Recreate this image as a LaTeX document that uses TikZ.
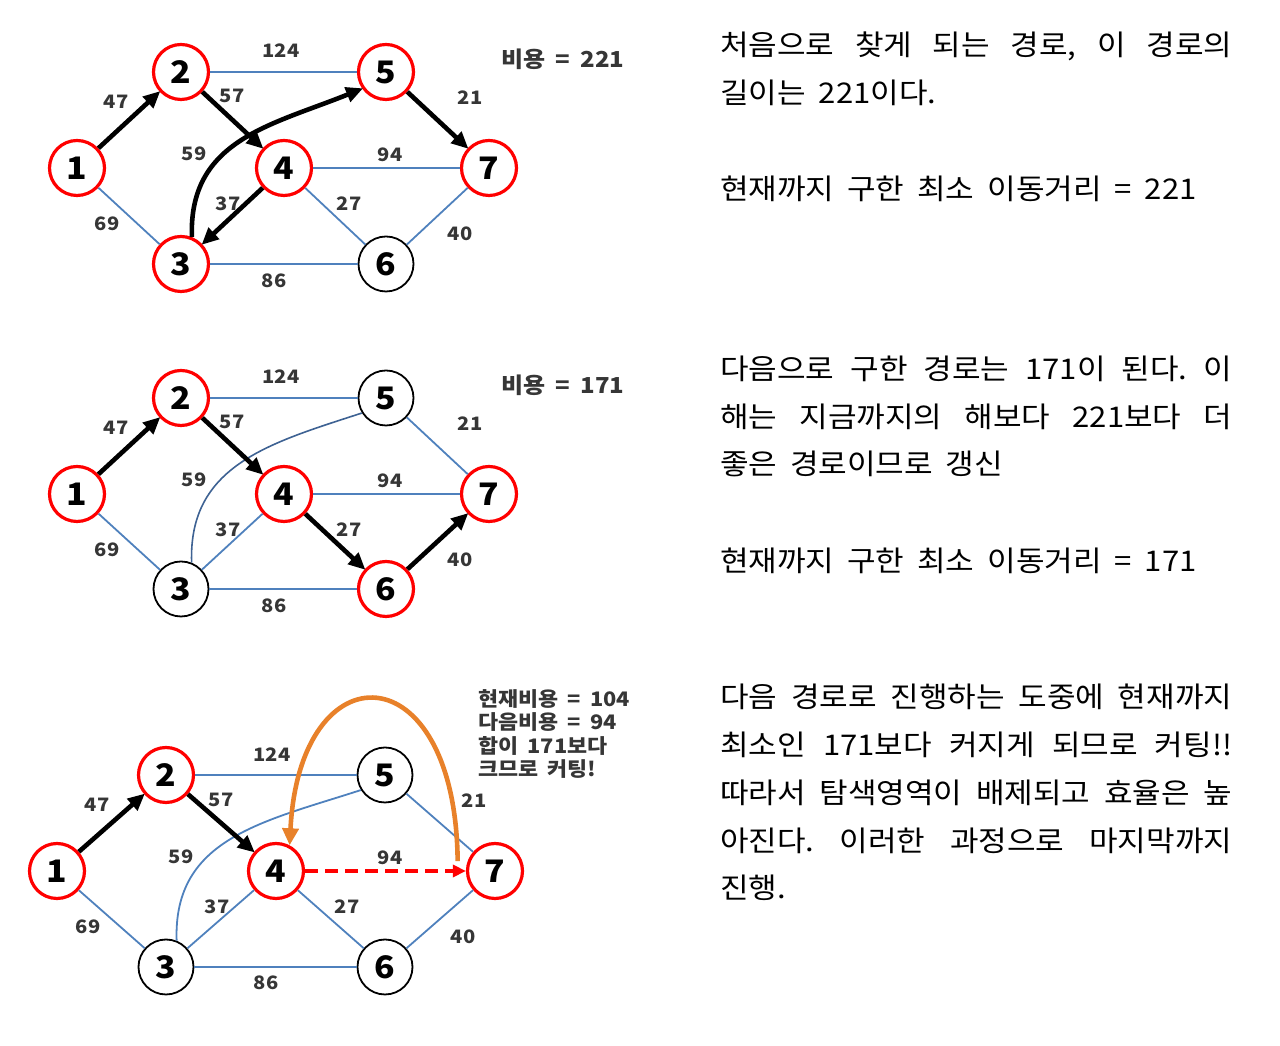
\documentclass[tikz,border=0pt]{standalone}
\usepackage{fontspec}
\setmainfont{Noto Sans CJK KR}[FakeStretch=1.09,WordSpace=1.85]
\frenchspacing
\usetikzlibrary{arrows.meta}
\definecolor{edgeblue}{HTML}{4F81BD}
\definecolor{curveblue}{HTML}{3E6293}
\definecolor{hitred}{HTML}{FF0000}
\definecolor{labgray}{HTML}{363636}
\definecolor{cutorange}{HTML}{E8812A}
\tikzset{
  vtx/.style={circle,draw=black,line width=1.8pt,minimum size=55pt,inner sep=0pt,fill=white,font=\fontsize{31}{31}\selectfont\bfseries},
  hit/.style={vtx,draw=hitred,line width=3.2pt},
  edg/.style={draw=edgeblue,line width=1.8pt},
  curv/.style={draw=curveblue,line width=1.6pt},
  pth/.style={-{Triangle[length=17pt,width=15pt]},line width=4.6pt,draw=black,shorten >=-1pt},
  cutpath/.style={-{Triangle[length=13pt,width=12pt]},line width=3.2pt,draw=hitred,dash pattern=on 13pt off 7pt},
  cutback/.style={-{Triangle[length=17pt,width=16pt]},line width=4.6pt,draw=cutorange},
  wlab/.style={font=\fontsize{18.5}{18.5}\selectfont\bfseries,text=labgray,inner sep=0pt},
  cost/.style={font=\fontsize{22}{22}\selectfont\bfseries,text=labgray,inner sep=0pt},
  note/.style={font=\fontsize{20}{23.5}\selectfont\bfseries,text=labgray,align=left,inner sep=0pt},
  txt/.style={font=\fontsize{28.5}{48}\selectfont,anchor=base west,inner sep=0pt},
}
\newcommand{\jline}[1]{\makebox[512pt][s]{#1}}

\begin{document}
\begin{tikzpicture}[x=1pt,y=1pt]
  \useasboundingbox (0,0) rectangle (1280,1046);

  % first path, cost 221
  \node[hit] (a1) at (77,878) {1};
  \node[hit] (a2) at (181,974) {2};
  \node[hit] (a5) at (386,974) {5};
  \node[hit] (a4) at (284,878) {4};
  \node[hit] (a7) at (489,878) {7};
  \node[hit] (a3) at (181,782) {3};
  \node[vtx] (a6) at (386,782) {6};
  \draw[edg] (a2) -- (a5); \draw[edg] (a1) -- (a3); \draw[edg] (a4) -- (a7);
  \draw[edg] (a4) -- (a6); \draw[edg] (a3) -- (a6); \draw[edg] (a6) -- (a7);
  \draw[pth] (a1) -- (a2); \draw[pth] (a2) -- (a4);
  \draw[pth] (a4) -- (a3); \draw[pth] (a5) -- (a7);
  \draw[pth] (a3.68) to[out=92,in=202,looseness=1.1] (a5.215);
  \node[wlab] (a124) at (281,995) {124}; \node[wlab] (a47) at (116,944) {47};
  \node[wlab] (a57) at (232,950) {57};   \node[wlab] (a21) at (470,948) {21};
  \node[wlab] (a59) at (194,892) {59};   \node[wlab] (a94) at (390,891) {94};
  \node[wlab] (a37) at (228,842) {37};   \node[wlab] (a27) at (349,842) {27};
  \node[wlab] (a69) at (107,822) {69};   \node[wlab] (a40) at (460,812) {40};
  \node[wlab] (a86) at (274,765) {86};
  \node[cost] (acost) at (563,987) {비용 = 221};

  % second path, cost 171
  \node[hit] (b1) at (77,552) {1};
  \node[hit] (b2) at (181,648) {2};
  \node[vtx] (b5) at (386,648) {5};
  \node[hit] (b4) at (284,552) {4};
  \node[hit] (b7) at (489,552) {7};
  \node[vtx] (b3) at (181,457) {3};
  \node[hit] (b6) at (386,457) {6};
  \draw[edg] (b2) -- (b5); \draw[edg] (b5) -- (b7); \draw[edg] (b1) -- (b3);
  \draw[edg] (b3) -- (b4); \draw[edg] (b4) -- (b7); \draw[edg] (b3) -- (b6);
  \draw[curv] (b3.68) to[out=92,in=198,looseness=1.1] (b5.212);
  \draw[pth] (b1) -- (b2); \draw[pth] (b2) -- (b4);
  \draw[pth] (b4) -- (b6); \draw[pth] (b6) -- (b7);
  \node[wlab] (b124) at (281,669) {124}; \node[wlab] (b47) at (116,618) {47};
  \node[wlab] (b57) at (232,624) {57};   \node[wlab] (b21) at (470,622) {21};
  \node[wlab] (b59) at (194,566) {59};   \node[wlab] (b94) at (390,565) {94};
  \node[wlab] (b37) at (228,516) {37};   \node[wlab] (b27) at (349,516) {27};
  \node[wlab] (b69) at (107,496) {69};   \node[wlab] (b40) at (460,486) {40};
  \node[wlab] (b86) at (274,440) {86};
  \node[cost] (bcost) at (563,661) {비용 = 171};

  % third path, cut at 4 -> 7
  \node[hit] (c1) at (57,175) {1};
  \node[hit] (c2) at (166,271) {2};
  \node[vtx] (c5) at (385,271) {5};
  \node[hit] (c4) at (276,175) {4};
  \node[hit] (c7) at (495,175) {7};
  \node[vtx] (c3) at (166,79) {3};
  \node[vtx] (c6) at (385,79) {6};
  \draw[edg] (c2) -- (c5); \draw[edg] (c5) -- (c7); \draw[edg] (c1) -- (c3);
  \draw[edg] (c3) -- (c4); \draw[edg] (c3) -- (c6); \draw[edg] (c4) -- (c6);
  \draw[edg] (c6) -- (c7);
  \draw[edg] (c3.68) to[out=92,in=198,looseness=1.1] (c5.212);
  \draw[pth] (c1) -- (c2); \draw[pth] (c2) -- (c4);
  \draw[cutpath] (c4) -- (c7);
  \draw[cutback] ([xshift=-10pt]c7.160) .. controls +(-2,211) and +(10,198) .. (c4.62);
  \node[wlab] (c124) at (272,291) {124}; \node[wlab] (c47) at (97,241) {47};
  \node[wlab] (c57) at (221,246) {57};   \node[wlab] (c21) at (474,245) {21};
  \node[wlab] (c59) at (181,189) {59};   \node[wlab] (c94) at (390,188) {94};
  \node[wlab] (c37) at (217,139) {37};   \node[wlab] (c27) at (347,139) {27};
  \node[wlab] (c69) at (88,119) {69};    \node[wlab] (c40) at (463,109) {40};
  \node[wlab] (c86) at (266,63) {86};
  \node[note,anchor=north west] (cnote) at (478,357) {현재비용 = 104\\다음비용 = 94\\합이 171보다\\크므로 커팅!};

  % explanations
  \node[txt] (t1a) at (720,990) {\jline{처음으로 찾게 되는 경로, 이 경로의}};
  \node[txt] (t1b) at (720,942) {길이는 221이다.};
  \node[txt] (t1c) at (720,846) {현재까지 구한 최소 이동거리 = 221};

  \node[txt] (t2a) at (720,666) {\jline{다음으로 구한 경로는 171이 된다. 이}};
  \node[txt] (t2b) at (720,618) {\jline{해는 지금까지의 해보다 221보다 더}};
  \node[txt] (t2c) at (720,571) {좋은 경로이므로 갱신};
  \node[txt] (t2d) at (720,474) {현재까지 구한 최소 이동거리 = 171};

  \node[txt] (t3a) at (720,338) {\jline{다음 경로로 진행하는 도중에 현재까지}};
  \node[txt] (t3b) at (720,290) {\jline{최소인 171보다 커지게 되므로 커팅!!}};
  \node[txt] (t3c) at (720,242) {\jline{따라서 탐색영역이 배제되고 효율은 높}};
  \node[txt] (t3d) at (720,194) {\jline{아진다. 이러한 과정으로 마지막까지}};
  \node[txt] (t3e) at (720,147) {진행.};
\end{tikzpicture}
\end{document}
